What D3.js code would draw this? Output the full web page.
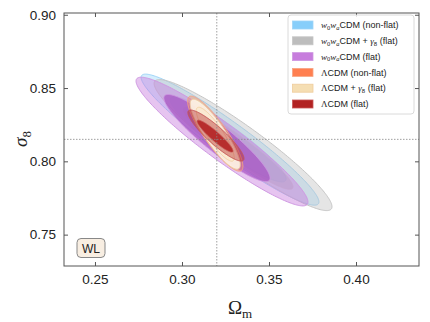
<!DOCTYPE html>
<html><head><meta charset="utf-8">
<script src="https://cdn.jsdelivr.net/npm/d3@7"></script>
<style>body{margin:0;background:#fff}</style>
</head><body>
<svg id="c" width="430" height="322"></svg>
<script>
// ---- data ----
const models = ["w0waCDM (non-flat)", "w0waCDM + γ8 (flat)", "w0waCDM (flat)", "ΛCDM (non-flat)", "ΛCDM + γ8 (flat)", "ΛCDM (flat)"];
// 2-sigma (outer) contours: centre, half-extent in each parameter, correlation
const outerOm    = [0.3276, 0.3351, 0.3230, 0.3191, 0.3191, 0.3195];
const outerS8    = [0.8148, 0.8111, 0.8135, 0.8189, 0.8185, 0.8176];
const outerHalfOm= [0.0511, 0.0511, 0.0494, 0.0159, 0.0144, 0.0161];
const outerHalfS8= [0.0447, 0.0447, 0.0439, 0.0256, 0.0239, 0.0174];
const outerRho   = [-0.95, -0.94, -0.94, -0.87, -0.87, -0.90];
// 1-sigma (inner) contours
const innerOm    = [0.3265, 0.3322, 0.3201, 0.3191, 0.3191, 0.3190];
const innerS8    = [0.8150, 0.8090, 0.8159, 0.8189, 0.8185, 0.8172];
const innerHalfOm= [0.0333, 0.0316, 0.0305, 0.0115, 0.0109, 0.0103];
const innerHalfS8= [0.0290, 0.0281, 0.0297, 0.0191, 0.0184, 0.0109];
const innerRho   = [-0.93, -0.94, -0.92, -0.87, -0.87, -0.93];
const fiducialOm = 0.32, fiducialS8 = 0.815;
const xTicks = [0.25, 0.30, 0.35, 0.40];
const yTicks = [0.75, 0.80, 0.85, 0.90];
const xDomain = [0.2322, 0.4362], yDomain = [0.7286, 0.9012];

// ---- styles ----
const baseColor  = ["#87cefa", "#bdbdbd", "#c77ddd", "#ff7f50", "#f5deb3", "#b22222"];
const outerFill  = ["#87cefa", "#bdbdbd", "#c77ddd", "#ff7f50", "#fdf3e4", "#b22222"];
const outerOpac  = [0.35, 0.40, 0.45, 0.35, 0.92, 0.40];
const innerFill  = ["#87cefa", "#a6a6a6", "#a650c2", "#ff7f50", "#faead0", "#b22222"];
const innerOpac  = [0.35, 0.35, 0.70, 0.40, 0.85, 0.90];
const strokeCol  = ["#9fd5f8", "#c6c6c6", "#cf98e2", "#f7a584", "#efcc9c", "#c75555"];

const svg = d3.select("#c");
const L = 64, T = 13, R = 419, B = 266;
const x = d3.scaleLinear().domain(xDomain).range([L, R]);
const y = d3.scaleLinear().domain(yDomain).range([B, T]);

svg.append("defs").append("clipPath").attr("id","clip")
  .append("rect").attr("x",L).attr("y",T).attr("width",R-L).attr("height",B-T);

function ellipsePts(cx, cy, ax, ay, rho){
  const s = Math.sqrt(1 - rho*rho), pts = [];
  for (let i = 0; i < 240; i++){
    const t = i/240*2*Math.PI;
    pts.push([cx + ax*Math.cos(t), cy + ay*(rho*Math.cos(t) + s*Math.sin(t))]);
  }
  return pts;
}
const line = d3.line().x(d => x(d[0])).y(d => y(d[1])).curve(d3.curveLinearClosed);

const g = svg.append("g").attr("clip-path","url(#clip)");
models.forEach((m, i) => {
  g.append("path").attr("d", line(ellipsePts(outerOm[i], outerS8[i], outerHalfOm[i], outerHalfS8[i], outerRho[i])))
    .attr("fill", outerFill[i]).attr("fill-opacity", outerOpac[i])
    .attr("stroke", strokeCol[i]).attr("stroke-width", 1);
  g.append("path").attr("d", line(ellipsePts(innerOm[i], innerS8[i], innerHalfOm[i], innerHalfS8[i], innerRho[i])))
    .attr("fill", innerFill[i]).attr("fill-opacity", innerOpac[i])
    .attr("stroke", strokeCol[i]).attr("stroke-width", 0.8);
});

// fiducial lines
g.append("line").attr("x1", x(fiducialOm)).attr("x2", x(fiducialOm)).attr("y1", T).attr("y2", B)
  .attr("stroke","#888").attr("stroke-width",0.8).attr("stroke-dasharray","1.5,1.5");
g.append("line").attr("x1", L).attr("x2", R).attr("y1", y(fiducialS8)).attr("y2", y(fiducialS8))
  .attr("stroke","#888").attr("stroke-width",0.8).attr("stroke-dasharray","1.5,1.5");

// axes
const tickLen = 4;
svg.append("g").attr("transform",`translate(0,${B})`)
  .call(d3.axisBottom(x).tickValues(xTicks).tickFormat(d3.format(".2f")).tickSizeInner(-tickLen).tickSizeOuter(0).tickPadding(8))
  .call(a => a.select(".domain").remove());
svg.append("g").attr("transform",`translate(0,${T})`)
  .call(d3.axisTop(x).tickValues(xTicks).tickFormat("").tickSizeInner(-tickLen).tickSizeOuter(0))
  .call(a => a.select(".domain").remove());
svg.append("g").attr("transform",`translate(${L},0)`)
  .call(d3.axisLeft(y).tickValues(yTicks).tickFormat(d3.format(".2f")).tickSizeInner(-tickLen).tickSizeOuter(0).tickPadding(8))
  .call(a => a.select(".domain").remove());
svg.append("g").attr("transform",`translate(${R},0)`)
  .call(d3.axisRight(y).tickValues(yTicks).tickFormat("").tickSizeInner(-tickLen).tickSizeOuter(0))
  .call(a => a.select(".domain").remove());
svg.selectAll(".tick line").attr("stroke","#555");
svg.selectAll(".tick text").attr("font-family","Liberation Sans, Arial, sans-serif").attr("font-size",13.5).attr("fill","#222");
svg.append("rect").attr("x",L).attr("y",T).attr("width",R-L).attr("height",B-T)
  .attr("fill","none").attr("stroke","#555").attr("stroke-width",1);

// axis titles
const xt = svg.append("text").attr("x",240).attr("y",314).attr("text-anchor","middle")
  .attr("font-family","Liberation Serif, DejaVu Serif, serif").attr("font-size",19).attr("fill","#222");
xt.append("tspan").text("Ω");
xt.append("tspan").attr("dy",4).attr("font-size",13).text("m");
const yt = svg.append("text").attr("transform","translate(27,139) rotate(-90)").attr("text-anchor","middle")
  .attr("font-family","Liberation Serif, DejaVu Serif, serif").attr("font-size",19).attr("fill","#222");
yt.append("tspan").attr("font-style","italic").text("σ");
yt.append("tspan").attr("dy",4).attr("font-size",13).text("8");

// legend
const lg = svg.append("g");
lg.append("rect").attr("x",288).attr("y",15).attr("width",126).attr("height",99).attr("rx",3)
  .attr("fill","#fff").attr("fill-opacity",0.85).attr("stroke","#d0d0d0").attr("stroke-width",0.8);
models.forEach((m, i) => {
  const cy = 25 + i*15.8;
  lg.append("rect").attr("x",292.5).attr("y",cy-4).attr("width",20.5).attr("height",8)
    .attr("fill", baseColor[i]).attr("stroke", strokeCol[i]).attr("stroke-width",0.8);
  const t = lg.append("text").attr("x",321).attr("y",cy+3.2)
    .attr("font-family","Liberation Sans, Arial, sans-serif").attr("font-size",9).attr("fill","#222");
  if (m.startsWith("w0wa")) {
    t.append("tspan").attr("font-family","Liberation Serif, serif").attr("font-style","italic").text("w");
    t.append("tspan").attr("font-family","Liberation Serif, serif").attr("font-size",6.5).attr("dy",1.5).text("0");
    t.append("tspan").attr("font-family","Liberation Serif, serif").attr("font-style","italic").attr("dy",-1.5).text("w");
    t.append("tspan").attr("font-family","Liberation Serif, serif").attr("font-style","italic").attr("font-size",6.5).attr("dy",1.5).text("a");
    t.append("tspan").attr("dy",-1.5).text(m.slice(4).split("γ8")[0]);
  } else {
    t.append("tspan").attr("font-family","Liberation Serif, serif").text("Λ");
    t.append("tspan").text(m.slice(1).split("γ8")[0]);
  }
  if (m.includes("γ8")) {
    t.append("tspan").attr("font-family","Liberation Serif, serif").attr("font-style","italic").text("γ");
    t.append("tspan").attr("font-size",6).attr("dy",1.5).text("8");
    t.append("tspan").attr("dy",-1.5).text(m.split("γ8")[1]);
  }
});

// WL label
svg.append("rect").attr("x",77).attr("y",238.5).attr("width",28).attr("height",19).attr("rx",4)
  .attr("fill","#f8eee2").attr("stroke","#888").attr("stroke-width",1);
svg.append("text").attr("x",91).attr("y",252.5).attr("text-anchor","middle")
  .attr("font-family","Liberation Sans, Arial, sans-serif").attr("font-size",12).attr("font-weight",500).attr("fill","#222").text("WL");
</script>
</body></html>
